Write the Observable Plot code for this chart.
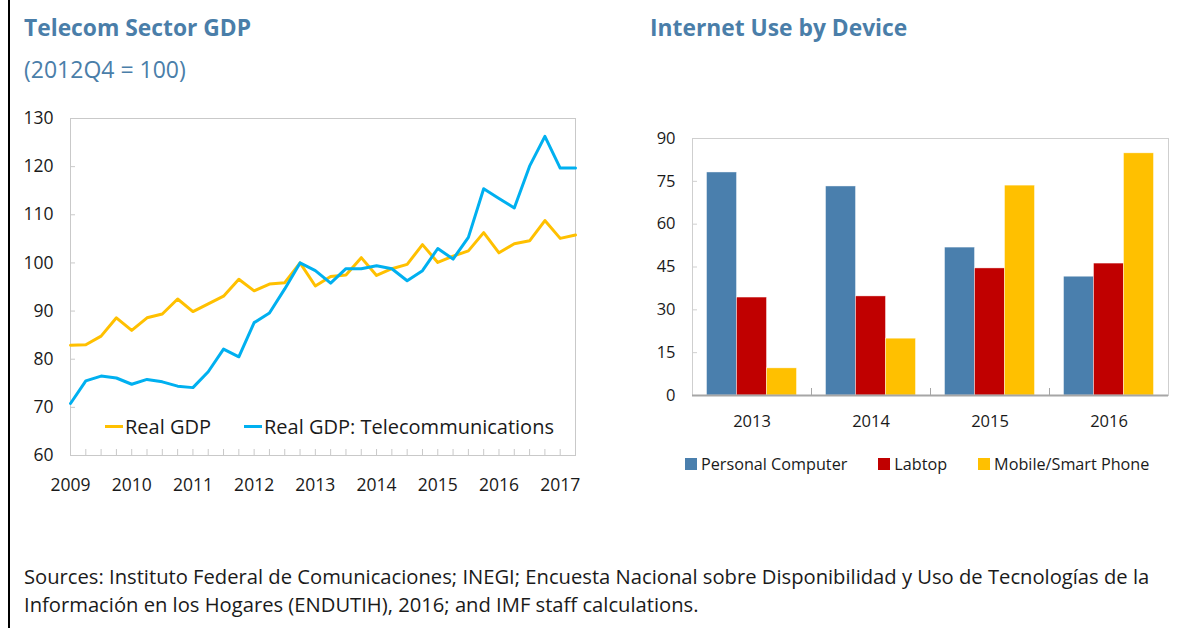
<!DOCTYPE html>
<html>
<head>
<meta charset="utf-8">
<script src="https://cdn.jsdelivr.net/npm/d3@7"></script>
<script src="https://cdn.jsdelivr.net/npm/@observablehq/plot@0.6"></script>
<style>
  html, body { margin: 0; padding: 0; background: #fff; }
  body { font-family: "Open Sans", sans-serif; color: #1a1a1a; }
  #page { position: relative; width: 1198px; height: 628px; overflow: hidden; background: #fff; }
  #border { position: absolute; left: 8px; top: 0; width: 2px; height: 628px; background: #000; }
  .title { position: absolute; font-weight: bold; color: #4a7ea9; font-size: 22.8px; white-space: nowrap; }
  .subtitle { position: absolute; color: #4a7ea9; font-size: 23px; white-space: nowrap; }
  .plot { position: absolute; }
  .legend { position: absolute; display: flex; align-items: center; white-space: nowrap; }
  .legend .item { display: flex; align-items: center; }
  .sw-line { display: inline-block; height: 3px; }
  .sw-box { display: inline-block; width: 12px; height: 12px; }
  #note { position: absolute; left: 24px; top: 562px; font-size: 20.2px; line-height: 28px; white-space: nowrap; }
</style>
</head>
<body>
<div id="page">
  <div id="border"></div>
  <div class="title" style="left:24px; top:12px;">Telecom Sector GDP</div>
  <div class="subtitle" style="left:24px; top:53px;">(2012Q4 = 100)</div>
  <div class="title" style="left:650px; top:12px;">Internet Use by Device</div>
  <div id="left" class="plot" style="left:0px; top:100px;"></div>
  <div id="right" class="plot" style="left:600px; top:120px;"></div>
  <div id="legendLeft" class="legend" style="left:105px; top:413px; font-size:20px;"></div>
  <div id="legendRight" class="legend" style="left:685px; top:453px; font-size:16.2px;"></div>
  <div id="note"></div>
</div>
<script>
// ---------- Data: Telecom Sector GDP (2012Q4 = 100), quarterly 2009Q1–2017Q2 ----------
const years = [2009, 2010, 2011, 2012, 2013, 2014, 2015, 2016, 2017];
const quartersPerYear = ["Q1", "Q2", "Q3", "Q4"];
const realGDP = [82.9, 83.0, 84.8, 88.6, 86.0, 88.6, 89.4, 92.5, 89.9, 91.5, 93.1, 96.6,
  94.2, 95.6, 95.9, 100.0, 95.2, 97.2, 97.5, 101.1, 97.4, 98.8, 99.7, 103.8,
  100.1, 101.4, 102.5, 106.3, 102.1, 104.0, 104.6, 108.8, 105.1, 105.8];
const telecomGDP = [70.8, 75.5, 76.5, 76.1, 74.8, 75.8, 75.3, 74.4, 74.1, 77.4, 82.1, 80.5,
  87.6, 89.6, 94.6, 100.0, 98.4, 95.8, 98.8, 98.8, 99.4, 98.8, 96.3, 98.4,
  103.0, 100.8, 105.3, 115.4, 113.4, 111.4, 120.1, 126.3, 119.7, 119.7];
const leftYTicks = [60, 70, 80, 90, 100, 110, 120, 130];
const lineSeries = ["Real GDP", "Real GDP: Telecommunications"];
const lineColors = ["#FFC000", "#00B0F0"];

// ---------- Data: Internet Use by Device ----------
const deviceYears = [2013, 2014, 2015, 2016];
const devices = ["Personal Computer", "Labtop", "Mobile/Smart Phone"];
const deviceColors = ["#4a7fad", "#c00000", "#ffc000"];
const personalComputer = [78.1, 73.2, 51.8, 41.6];
const laptop = [34.3, 34.7, 44.5, 46.2];
const mobilePhone = [9.5, 19.9, 73.5, 84.8];
const rightYTicks = [0, 15, 30, 45, 60, 75, 90];

const note = [
  "Sources: Instituto Federal de Comunicaciones; INEGI; Encuesta Nacional sobre Disponibilidad y Uso de Tecnologías de la",
  "Información en los Hogares (ENDUTIH), 2016; and IMF staff calculations."
];

// ---------- Build tables ----------
const quarterLabels = years.flatMap(y => quartersPerYear.map(q => `${y}${q}`)).slice(0, realGDP.length);
const quarterPos = quarterLabels.map(l => +l.slice(0, 4) + (+l.slice(5) - 1) / 4);
const lineData = quarterLabels.map((l, i) => ({t: quarterPos[i], real: realGDP[i], tele: telecomGDP[i]}));

const seriesByDevice = [personalComputer, laptop, mobilePhone];
const groupWidth = 0.756;             // share of each year occupied by the cluster
const barW = groupWidth / devices.length;
const barData = deviceYears.flatMap((yr, i) => devices.map((d, k) => ({
  year: yr, device: d, value: seriesByDevice[k][i],
  x1: yr - groupWidth / 2 + k * barW, x2: yr - groupWidth / 2 + (k + 1) * barW
})));
const betweenGroups = deviceYears.slice(0, -1).map(y => y + 0.5);

const FONT = "'Open Sans', sans-serif";

// ---------- Left chart ----------
const left = Plot.plot({
  width: 600, height: 405,
  marginLeft: 70, marginRight: 25, marginTop: 18, marginBottom: 50,
  style: {fontFamily: FONT, fontSize: "17.5px", color: "#1a1a1a", background: "transparent"},
  x: {domain: [2009, 2017.25], label: null},
  y: {domain: [60, 130], label: null},
  marks: [
    Plot.frame({stroke: "#c9c9c9"}),
    Plot.axisY(leftYTicks, {tickSize: 0, tickPadding: 17, label: null, fontSize: 17.5}),
    Plot.axisY(leftYTicks, {tickSize: 5, dx: 5, text: null, label: null, stroke: "#c9c9c9"}),
    Plot.axisX(quarterPos, {tickSize: 6, dy: -6, text: null, label: null, stroke: "#c9c9c9"}),
    Plot.axisX(years, {tickSize: 0, tickPadding: 23, label: null, fontSize: 17.5, tickFormat: d => String(d)}),
    Plot.line(lineData, {x: "t", y: "real", stroke: lineColors[0], strokeWidth: 3}),
    Plot.line(lineData, {x: "t", y: "tele", stroke: lineColors[1], strokeWidth: 3})
  ]
});
document.getElementById("left").appendChild(left);

// ---------- Right chart ----------
const right = Plot.plot({
  width: 598, height: 320,
  marginLeft: 92, marginRight: 30, marginTop: 18, marginBottom: 45,
  style: {fontFamily: FONT, fontSize: "16px", color: "#1a1a1a", background: "transparent"},
  x: {domain: [2012.5, 2016.5], label: null},
  y: {domain: [0, 90], label: null},
  color: {domain: devices, range: deviceColors},
  marks: [
    Plot.frame({stroke: "#cfcfcf"}),
    Plot.axisY(rightYTicks, {tickSize: 0, tickPadding: 17, label: null, fontSize: 16.5}),
    Plot.axisY(rightYTicks, {tickSize: 5, dx: 5, text: null, label: null, stroke: "#cfcfcf"}),
    Plot.rectY(barData, {x1: "x1", x2: "x2", y1: 0, y2: "value", fill: "device", stroke: "#ffffff", strokeWidth: 0.6, strokeOpacity: 0.7}),
    Plot.ruleY([0], {stroke: "#a6a6a6", strokeWidth: 2}),
    Plot.axisX(betweenGroups, {tickSize: 7, dy: -7, text: null, label: null, stroke: "#a6a6a6"}),
    Plot.axisX(deviceYears, {tickSize: 0, tickPadding: 20, label: null, fontSize: 16.5, tickFormat: d => String(d)})
  ]
});
document.getElementById("right").appendChild(right);

// ---------- Legends ----------
const ll = document.getElementById("legendLeft");
lineSeries.forEach((s, i) => {
  const it = document.createElement("div");
  it.className = "item";
  it.style.marginRight = i === 0 ? "33px" : "0";
  it.innerHTML = `<span class="sw-line" style="width:18px;background:${lineColors[i]};margin-right:2px"></span><span>${s}</span>`;
  ll.appendChild(it);
});
const lr = document.getElementById("legendRight");
devices.forEach((d, i) => {
  const it = document.createElement("div");
  it.className = "item";
  it.style.marginRight = i < devices.length - 1 ? "31px" : "0";
  it.innerHTML = `<span class="sw-box" style="background:${deviceColors[i]};margin-right:4px"></span><span>${d}</span>`;
  lr.appendChild(it);
});

// ---------- Note ----------
document.getElementById("note").innerHTML = note.map(t => `<div>${t}</div>`).join("");
</script>
</body>
</html>
